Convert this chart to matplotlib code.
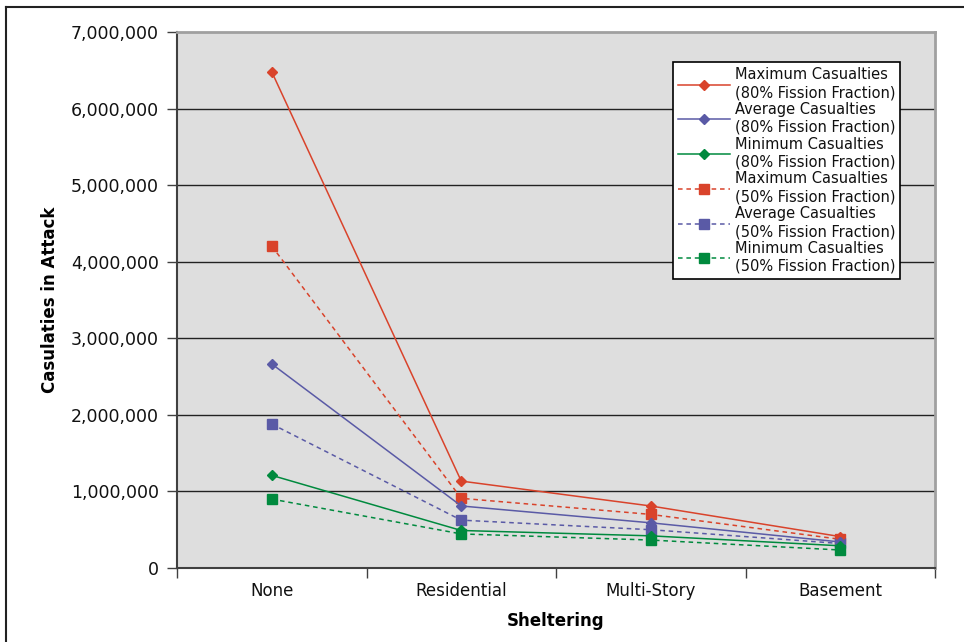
import matplotlib.pyplot as plt
from matplotlib.lines import Line2D
from matplotlib.ticker import FuncFormatter, FixedLocator

# ------------------ 데이터 ------------------
categories = ["None", "Residential", "Multi-Story", "Basement"]

max_80 = [6480000, 1135000, 810000, 410000]
avg_80 = [2665000, 810000, 590000, 340000]
min_80 = [1210000, 490000, 420000, 290000]
max_50 = [4205000, 910000, 700000, 375000]
avg_50 = [1880000, 625000, 500000, 320000]
min_50 = [900000, 445000, 365000, 235000]

series_labels = [
    "Maximum Casualties\n(80% Fission Fraction)",
    "Average Casualties\n(80% Fission Fraction)",
    "Minimum Casualties\n(80% Fission Fraction)",
    "Maximum Casualties\n(50% Fission Fraction)",
    "Average Casualties\n(50% Fission Fraction)",
    "Minimum Casualties\n(50% Fission Fraction)",
]

y_ticks = [0, 1000000, 2000000, 3000000, 4000000, 5000000, 6000000, 7000000]

# ------------------ 스타일 ------------------
red = "#D9432B"
blue = "#5A5AA6"
green = "#008A3E"

plt.rcParams["font.family"] = ["DejaVu Sans"]

fig = plt.figure(figsize=(9.64, 6.42), dpi=100)
ax = fig.add_axes([177 / 964, 1 - 568 / 642, 758 / 964, 536 / 642])
ax.set_facecolor("#DEDEDE")

x = list(range(len(categories)))

# 실선 + 다이아몬드 (80%)
ax.plot(x, max_80, color=red, lw=1.1, marker="D", ms=5, label=series_labels[0], zorder=4)
ax.plot(x, avg_80, color=blue, lw=1.1, marker="D", ms=5, label=series_labels[1], zorder=4)
ax.plot(x, min_80, color=green, lw=1.1, marker="D", ms=5, label=series_labels[2], zorder=4)
# 점선 + 사각형 (50%)
dash = (0, (3, 2.5))
ax.plot(x, max_50, color=red, lw=1.1, ls=dash, marker="s", ms=6.5, label=series_labels[3], zorder=3)
ax.plot(x, avg_50, color=blue, lw=1.1, ls=dash, marker="s", ms=6.5, label=series_labels[4], zorder=3)
ax.plot(x, min_50, color=green, lw=1.1, ls=dash, marker="s", ms=6.5, label=series_labels[5], zorder=3)

# 축 설정
ax.set_xlim(-0.5, len(categories) - 0.5)
ax.set_ylim(0, 7000000)
ax.set_yticks(y_ticks)
ax.yaxis.set_major_formatter(FuncFormatter(lambda v, p: f"{v:,.0f}"))
ax.tick_params(axis="y", direction="out", length=7, width=1, color="#404040",
               labelsize=12.5, pad=6, labelcolor="#111111")

ax.set_xticks(x)
ax.set_xticklabels(categories)
ax.xaxis.set_minor_locator(FixedLocator([i - 0.5 for i in range(len(categories) + 1)]))
ax.tick_params(axis="x", which="major", length=0, labelsize=12, pad=10, labelcolor="#111111")
ax.tick_params(axis="x", which="minor", direction="out", length=7, width=1, color="#404040")

# 그리드
for v in y_ticks[1:-1]:
    ax.axhline(v, color="#222222", lw=1.0, zorder=1)

# 테두리
ax.spines["left"].set_color("#404040")
ax.spines["left"].set_linewidth(1.5)
ax.spines["bottom"].set_color("#404040")
ax.spines["bottom"].set_linewidth(1.5)
ax.spines["top"].set_color("#A0A0A0")
ax.spines["top"].set_linewidth(2)
ax.spines["right"].set_color("#A0A0A0")
ax.spines["right"].set_linewidth(2)

ax.set_xlabel("Sheltering", fontsize=12, fontweight="bold", labelpad=9)
ax.set_ylabel("Casulaties in Attack", fontsize=12, fontweight="bold")
ax.yaxis.set_label_coords(-(177 - 59) / 758, 0.5)

leg = ax.legend(loc="upper right", bbox_to_anchor=(0.954, 0.944), borderaxespad=0,
                fontsize=10.5, handlelength=3.6, handletextpad=0.3, labelspacing=0.12,
                borderpad=0.35, fancybox=False, framealpha=1, edgecolor="black")
leg.get_frame().set_linewidth(1.2)
for t in leg.get_texts():
    t.set_linespacing(1.25)
    t.set_color("#111111")

# 그림 외곽선 (왼쪽, 위쪽)
fig.add_artist(Line2D([6 / 964, 6 / 964], [0, 1 - 7 / 642], color="#222222", lw=1.5))
fig.add_artist(Line2D([6 / 964, 1], [1 - 7 / 642, 1 - 7 / 642], color="#222222", lw=1.5))

fig.savefig("out.png", dpi=100)
